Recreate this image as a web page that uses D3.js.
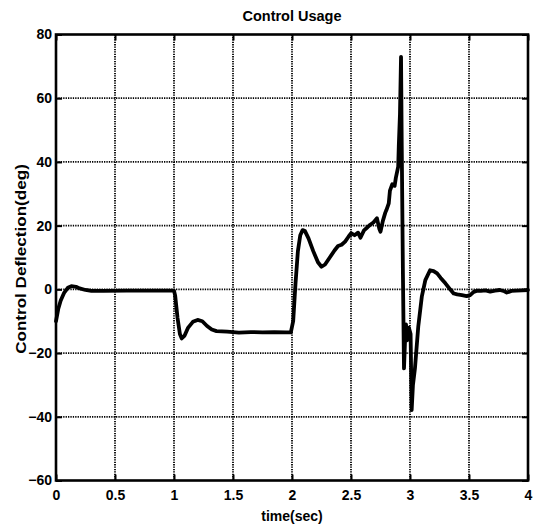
<!DOCTYPE html>
<html>
<head>
<meta charset="utf-8">
<script src="https://cdn.jsdelivr.net/npm/d3@7"></script>
<style>
html,body{margin:0;padding:0;background:#fff;}
svg text{font-family:"Liberation Sans",Arial,Helvetica,sans-serif;font-weight:bold;fill:#000;}
</style>
</head>
<body>
<svg id="chart" width="534" height="529"></svg>
<script>
const timeSec = [0,0.02,0.04,0.07,0.1,0.13,0.17,0.2,0.25,0.3,0.4,0.6,0.8,1.0,1.01,1.03,1.05,1.065,1.09,1.12,1.16,1.2,1.24,1.28,1.32,1.36,1.45,1.55,1.65,1.75,1.85,1.95,1.99,2.01,2.03,2.05,2.07,2.09,2.11,2.14,2.18,2.22,2.25,2.28,2.32,2.36,2.39,2.42,2.45,2.48,2.5,2.53,2.56,2.58,2.61,2.64,2.66,2.69,2.72,2.74,2.75,2.77,2.79,2.8,2.82,2.83,2.85,2.87,2.88,2.9,2.905,2.915,2.924,2.93,2.94,2.949,2.958,2.966,2.975,2.99,3.005,3.014,3.025,3.042,3.07,3.1,3.13,3.17,3.2,3.23,3.26,3.3,3.34,3.37,3.4,3.44,3.48,3.51,3.54,3.57,3.6,3.64,3.68,3.72,3.76,3.8,3.82,3.86,3.9,3.95,4.0];
const deflection = [-10,-6,-3.5,-1,0.5,1.0,0.8,0.3,-0.2,-0.5,-0.5,-0.4,-0.4,-0.4,-2,-9,-14,-15.4,-14.5,-12,-10.2,-9.6,-10,-11.5,-12.6,-13.1,-13.3,-13.6,-13.4,-13.5,-13.4,-13.5,-13.5,-10,2,12,17,18.6,18.3,16,12,8.5,7.1,7.8,10,12.2,13.6,14,15,16.6,17.6,17,17.8,16.2,18.5,19.5,20.2,21,22.3,19,18.1,21.5,24,24.9,27,31,33,32.5,35,38.5,45,55,73,45,5,-24.8,-16,-11,-16,-12,-14,-37.9,-30,-24.8,-11.7,-2.3,2.9,6.0,5.7,5.0,3.6,1.9,0.0,-1.3,-1.6,-1.8,-2.1,-1.8,-0.8,-0.4,-0.5,-0.3,-0.7,-0.4,-0.2,-0.6,-1.0,-0.5,-0.4,-0.3,-0.2];
const xTicks = [0,0.5,1,1.5,2,2.5,3,3.5,4];
const yTicks = [-60,-40,-20,0,20,40,60,80];
const titleText = "Control Usage";
const xLabel = "time(sec)";
const yLabel = "Control Deflection(deg)";

const svg = d3.select("#chart");
const L = 56, R = 528, T = 34.5, B = 480.5;
const x = d3.scaleLinear().domain([0,4]).range([L,R]);
const y = d3.scaleLinear().domain([-60,80]).range([B,T]);

// grid
const grid = svg.append("g");
grid.selectAll("line.vx").data(xTicks.slice(1,-1)).enter().append("line")
  .attr("x1",d=>x(d)).attr("x2",d=>x(d)).attr("y1",T).attr("y2",B)
  .attr("stroke","#000").attr("stroke-width",1.8).attr("stroke-dasharray","1.3,1.1");
grid.selectAll("line.hy").data(yTicks.slice(1,-1)).enter().append("line")
  .attr("x1",L).attr("x2",R).attr("y1",d=>y(d)).attr("y2",d=>y(d))
  .attr("stroke","#000").attr("stroke-width",1.8).attr("stroke-dasharray","1.3,1.1");

// axes (ticks inside)
const xAxis = svg.append("g").attr("transform",`translate(0,${B})`)
  .call(d3.axisBottom(x).tickValues(xTicks).tickFormat(d3.format("")).tickSize(-6).tickPadding(10));
const xAxisTop = svg.append("g").attr("transform",`translate(0,${T})`)
  .call(d3.axisTop(x).tickValues(xTicks).tickFormat("").tickSize(-6));
const yAxis = svg.append("g").attr("transform",`translate(${L},0)`)
  .call(d3.axisLeft(y).tickValues(yTicks).tickSize(-6).tickPadding(4));
const yAxisR = svg.append("g").attr("transform",`translate(${R},0)`)
  .call(d3.axisRight(y).tickValues(yTicks).tickFormat("").tickSize(-6));
[xAxis,xAxisTop,yAxis,yAxisR].forEach(g=>{
  g.select(".domain").remove();
  g.selectAll(".tick line").attr("stroke","#000").attr("stroke-width",2);
  g.selectAll("text").style("font-size","14px").style("font-weight","bold")
   .style("font-family","'Liberation Sans',Arial,sans-serif").attr("fill","#000");
});

// data line
const line = d3.line().x(d=>x(d[0])).y(d=>y(d[1]));
svg.append("path").datum(timeSec.map((t,i)=>[t,deflection[i]]))
  .attr("d",line).attr("fill","none").attr("stroke","#000")
  .attr("stroke-width",3.8).attr("stroke-linejoin","round").attr("stroke-linecap","round");

// frame
svg.append("rect").attr("x",L).attr("y",T).attr("width",R-L).attr("height",B-T)
  .attr("fill","none").attr("stroke","#000").attr("stroke-width",2.6);

// labels
svg.append("text").attr("x",(L+R)/2).attr("y",21).attr("text-anchor","middle")
  .style("font-size","14.5px").text(titleText);
svg.append("text").attr("x",(L+R)/2).attr("y",521).attr("text-anchor","middle")
  .style("font-size","14px").text(xLabel);
svg.append("text").attr("transform",`translate(26,259) rotate(-90) scale(1.22,1)`)
  .attr("text-anchor","middle").style("font-size","14px").text(yLabel);
</script>
</body>
</html>
